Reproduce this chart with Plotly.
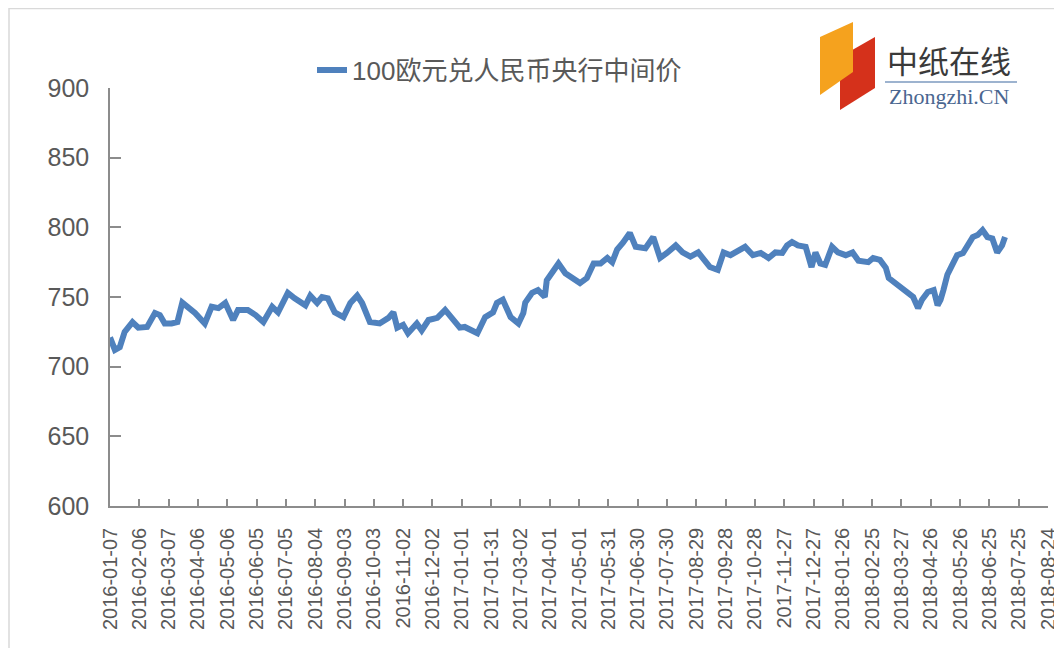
import plotly.graph_objects as go

# ---- data ----
dates = [
    "2016-01-07", "2016-01-12", "2016-01-17", "2016-01-22", "2016-01-30",
    "2016-02-05", "2016-02-14", "2016-02-22", "2016-02-27",
    "2016-03-03", "2016-03-10", "2016-03-16", "2016-03-21", "2016-03-26",
    "2016-04-03", "2016-04-13", "2016-04-20", "2016-04-27",
    "2016-05-04", "2016-05-12", "2016-05-17", "2016-05-27",
    "2016-06-04", "2016-06-12", "2016-06-21", "2016-06-27",
    "2016-07-07", "2016-07-14", "2016-07-25", "2016-07-30",
    "2016-08-06", "2016-08-11", "2016-08-17", "2016-08-24",
    "2016-09-02", "2016-09-09", "2016-09-16", "2016-09-21", "2016-09-29",
    "2016-10-09", "2016-10-18", "2016-10-23", "2016-10-27",
    "2016-11-02", "2016-11-07", "2016-11-16", "2016-11-21", "2016-11-28",
    "2016-12-07", "2016-12-15", "2016-12-23", "2016-12-30",
    "2017-01-04", "2017-01-17", "2017-01-25",
    "2017-02-02", "2017-02-06", "2017-02-12", "2017-02-20", "2017-02-28",
    "2017-03-05", "2017-03-07", "2017-03-14", "2017-03-20", "2017-03-27", "2017-03-29",
    "2017-04-05", "2017-04-10", "2017-04-17", "2017-04-25",
    "2017-05-02", "2017-05-09", "2017-05-16", "2017-05-23", "2017-05-30",
    "2017-06-04", "2017-06-09", "2017-06-15", "2017-06-22", "2017-06-28",
    "2017-07-03", "2017-07-08", "2017-07-16", "2017-07-23", "2017-07-30",
    "2017-08-08", "2017-08-15", "2017-08-23", "2017-08-31",
    "2017-09-04", "2017-09-07", "2017-09-12", "2017-09-20", "2017-09-26",
    "2017-10-03", "2017-10-11", "2017-10-18", "2017-10-26",
    "2017-11-03", "2017-11-11", "2017-11-18", "2017-11-25", "2017-11-30",
    "2017-12-05", "2017-12-11", "2017-12-19", "2017-12-25", "2017-12-29",
    "2018-01-03", "2018-01-08", "2018-01-15", "2018-01-21", "2018-01-29",
    "2018-02-05", "2018-02-11", "2018-02-21", "2018-02-26",
    "2018-03-05", "2018-03-11", "2018-03-14", "2018-03-19", "2018-03-26",
    "2018-04-02", "2018-04-08", "2018-04-13", "2018-04-17", "2018-04-23", "2018-04-29",
    "2018-05-03", "2018-05-06", "2018-05-09", "2018-05-13", "2018-05-18", "2018-05-23", "2018-05-29",
    "2018-06-04", "2018-06-08", "2018-06-13", "2018-06-18", "2018-06-23", "2018-06-28",
    "2018-07-03", "2018-07-08", "2018-07-11",
]

values = [
    721, 712, 714, 725, 732,
    728, 728.5, 738.5, 737,
    731, 731, 732, 746, 743,
    738.5, 731, 743, 742,
    745.7, 733.5, 740.7, 740.7,
    737, 732, 743, 739,
    753, 749, 744, 751,
    745.7, 750, 749, 739,
    735.6, 745.7, 751, 745.7, 732,
    731, 735, 739, 728,
    730, 724, 731, 726, 733.5,
    735, 740.7, 733.5, 728,
    728.5, 724, 735.6,
    739, 745.7, 748, 735.6, 731,
    738.5, 746, 753, 755, 750, 762,
    769, 774, 767, 763.6,
    760, 763.6, 774, 774, 778,
    775, 784, 789, 796, 786,
    785, 785, 793, 778, 781.6,
    787, 782, 779, 782,
    779, 776, 771.5, 769.4, 782,
    780, 783.7, 786, 780,
    781.6, 778, 782, 781.6, 787,
    789.5, 787, 786, 771.5, 782,
    774, 773, 786, 782, 780,
    782, 776, 775, 778,
    776.6, 771, 763.6, 760.8, 757,
    753.6, 750, 742, 748, 753.6, 755,
    744, 748, 755, 766, 773, 780, 781.6,
    789, 793, 794.5, 798, 793, 792,
    782, 787, 793,
]

series_name = "100欧元兑人民币央行中间价"

x_ticks = [
    "2016-01-07", "2016-02-06", "2016-03-07", "2016-04-06", "2016-05-06",
    "2016-06-05", "2016-07-05", "2016-08-04", "2016-09-03", "2016-10-03",
    "2016-11-02", "2016-12-02", "2017-01-01", "2017-01-31", "2017-03-02",
    "2017-04-01", "2017-05-01", "2017-05-31", "2017-06-30", "2017-07-30",
    "2017-08-29", "2017-09-28", "2017-10-28", "2017-11-27", "2017-12-27",
    "2018-01-26", "2018-02-25", "2018-03-27", "2018-04-26", "2018-05-26",
    "2018-06-25", "2018-07-25", "2018-08-24",
]
y_ticks = [600, 650, 700, 750, 800, 850, 900]

# ---- layout geometry (screen pixels; page body adds an 8px offset) ----
OFF = 8
W, H = 1062 - OFF, 648 - OFF
L, R, T, B = 110, 1048, 88, 506   # plot area in screen pixels


def px(x):
    return (x - L) / (R - L)


def py(y):
    return (B - y) / (B - T)


AXIS_COLOR = "#8C8C8C"
TEXT_COLOR = "#595959"
LINE_COLOR = "#4F81BD"

fig = go.Figure()
fig.add_trace(go.Scatter(
    x=dates, y=values, mode="lines", name=series_name,
    line=dict(color=LINE_COLOR, width=6),
))

fig.update_layout(
    width=W, height=H,
    margin=dict(l=L - OFF, r=(W + OFF) - R, t=T - OFF, b=(H + OFF) - B, pad=0, autoexpand=False),
    paper_bgcolor="white", plot_bgcolor="white",
    showlegend=True,
    legend=dict(
        x=px(312), y=py(70), xanchor="left", yanchor="middle",
        orientation="h", bgcolor="rgba(0,0,0,0)",
        font=dict(family="Liberation Sans, Noto Sans CJK SC", size=26, color=TEXT_COLOR),
    ),
    xaxis=dict(
        type="date", range=[x_ticks[0], x_ticks[-1]],
        tickmode="array", tickvals=x_ticks, ticktext=x_ticks,
        tickangle=-90, ticks="inside", ticklen=7, tickwidth=1.5, tickcolor=AXIS_COLOR,
        showline=True, linecolor=AXIS_COLOR, linewidth=1.5,
        showgrid=False, zeroline=False,
        tickfont=dict(family="Liberation Sans, Arial", size=20, color=TEXT_COLOR),
        ticklabelstandoff=12,
    ),
    yaxis=dict(
        range=[600, 900], tickmode="array", tickvals=y_ticks,
        ticks="inside", ticklen=11, tickwidth=1.5, tickcolor=AXIS_COLOR,
        showline=True, linecolor=AXIS_COLOR, linewidth=1.5,
        showgrid=False, zeroline=False,
        tickfont=dict(family="Liberation Sans, Arial", size=25, color=TEXT_COLOR),
        ticklabelstandoff=14,
    ),
)

shapes = [
    # outer chart frame
    dict(type="rect", xref="paper", yref="paper",
         x0=px(9), y0=py(700), x1=px(1100), y1=py(8.5),
         line=dict(color="#D9D9D9", width=1.5), fillcolor="rgba(0,0,0,0)", layer="below"),
    # logo: red block
    dict(type="path", xref="paper", yref="paper",
         path=f"M{px(840)},{py(57)} L{px(875)},{py(37)} L{px(875)},{py(88)} L{px(840)},{py(110)} Z",
         fillcolor="#D5311B", line=dict(width=0)),
    # logo: orange block
    dict(type="path", xref="paper", yref="paper",
         path=f"M{px(820)},{py(37)} L{px(853)},{py(22)} L{px(853)},{py(72)} L{px(820)},{py(95)} Z",
         fillcolor="#F5A21E", line=dict(width=0)),
    # logo underline
    dict(type="line", xref="paper", yref="paper",
         x0=px(885), x1=px(1017), y0=py(82), y1=py(82),
         line=dict(color="#9DB3CF", width=2)),
]
fig.update_layout(shapes=shapes)

fig.add_annotation(
    xref="paper", yref="paper", x=px(949), y=py(59),
    text="中纸在线", showarrow=False, xanchor="center", yanchor="middle",
    font=dict(family="Noto Sans CJK SC", size=31, color="#3A3A3A"),
)
fig.add_annotation(
    xref="paper", yref="paper", x=px(949), y=py(96),
    text="Zhongzhi.CN", showarrow=False, xanchor="center", yanchor="middle",
    font=dict(family="Liberation Serif", size=22, color="#4A6690"),
)

fig.write_html("out.html")
